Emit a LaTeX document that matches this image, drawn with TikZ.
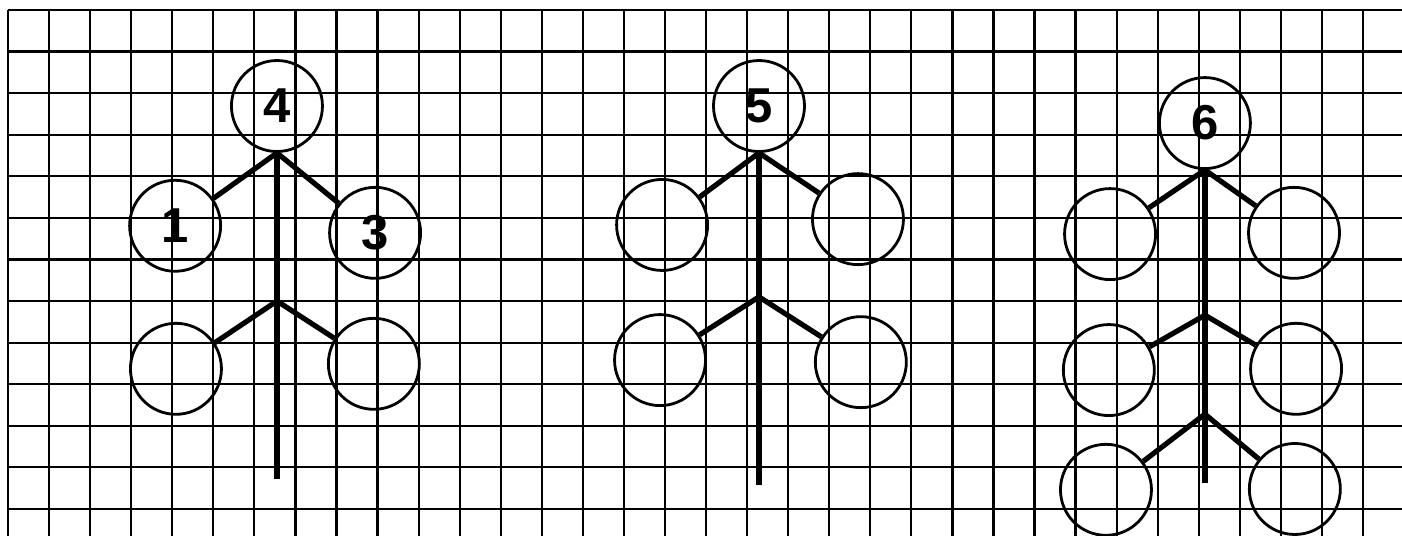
\documentclass[tikz,border=0pt]{standalone}
\usepackage{fontspec}
\setmainfont{Liberation Sans}
\begin{document}
\begin{tikzpicture}[x=20.53pt,y=20.79pt,
        gridline/.style={line width=1.1pt},
        leaf/.style={circle,draw,line width=1.4pt,minimum size=45.5pt,inner sep=0pt,
            font=\fontsize{24.5}{24.5}\selectfont\bfseries},
        stem/.style={line width=3pt},
        twig/.style={line width=2.6pt}]
        \useasboundingbox (-0.195,0.24) rectangle (33.95,-12.65);
        \foreach \i in {0,...,33}
            \draw[gridline] (\i,0) -- (\i,-12.65);
        \foreach \j in {0,...,12}
            \draw[gridline] (0,-\j) -- (33.95,-\j);

        \node[leaf] (t4) at (6.55,-2.31) {4};
        \node[leaf] (a1) at (4.07,-5.19) {1};
        \node[leaf] (a3) at (8.94,-5.36) {3};
        \node[leaf] (a5) at (4.09,-8.63) {};
        \node[leaf] (a6) at (8.91,-8.51) {};
        \coordinate (ak) at (6.55,-7.0);
        \coordinate (ae) at (6.55,-11.28);
        \draw[stem] (t4.south) -- (ae);
        \draw[twig] (a1) -- (t4.south) -- (a3);
        \draw[twig] (a5) -- (ak) -- (a6);

        \node[leaf] (t5) at (18.29,-2.31) {5};
        \node[leaf] (b1) at (15.93,-5.17) {};
        \node[leaf] (b2) at (20.70,-5.03) {};
        \node[leaf] (b3) at (15.88,-8.42) {};
        \node[leaf] (b4) at (20.77,-8.47) {};
        \coordinate (bk) at (18.29,-6.90);
        \coordinate (be) at (18.29,-11.42);
        \draw[stem] (t5.south) -- (be);
        \draw[twig] (b1) -- (t5.south) -- (b2);
        \draw[twig] (b3) -- (bk) -- (b4);

        \node[leaf] (t6) at (29.15,-2.72) {6};
        \node[leaf] (c1) at (26.84,-5.39) {};
        \node[leaf] (c2) at (31.32,-5.36) {};
        \node[leaf] (c3) at (26.81,-8.66) {};
        \node[leaf] (c4) at (31.37,-8.63) {};
        \node[leaf] (c5) at (26.74,-11.54) {};
        \node[leaf] (c6) at (31.34,-11.52) {};
        \coordinate (ck) at (29.15,-7.34);
        \coordinate (cl) at (29.15,-9.72);
        \coordinate (ce) at (29.15,-11.38);
        \draw[stem] (t6.south) -- (ce);
        \draw[twig] (c1) -- (t6.south) -- (c2);
        \draw[twig] (c3) -- (ck) -- (c4);
        \draw[twig] (c5) -- (cl) -- (c6);
\end{tikzpicture}
\end{document}
